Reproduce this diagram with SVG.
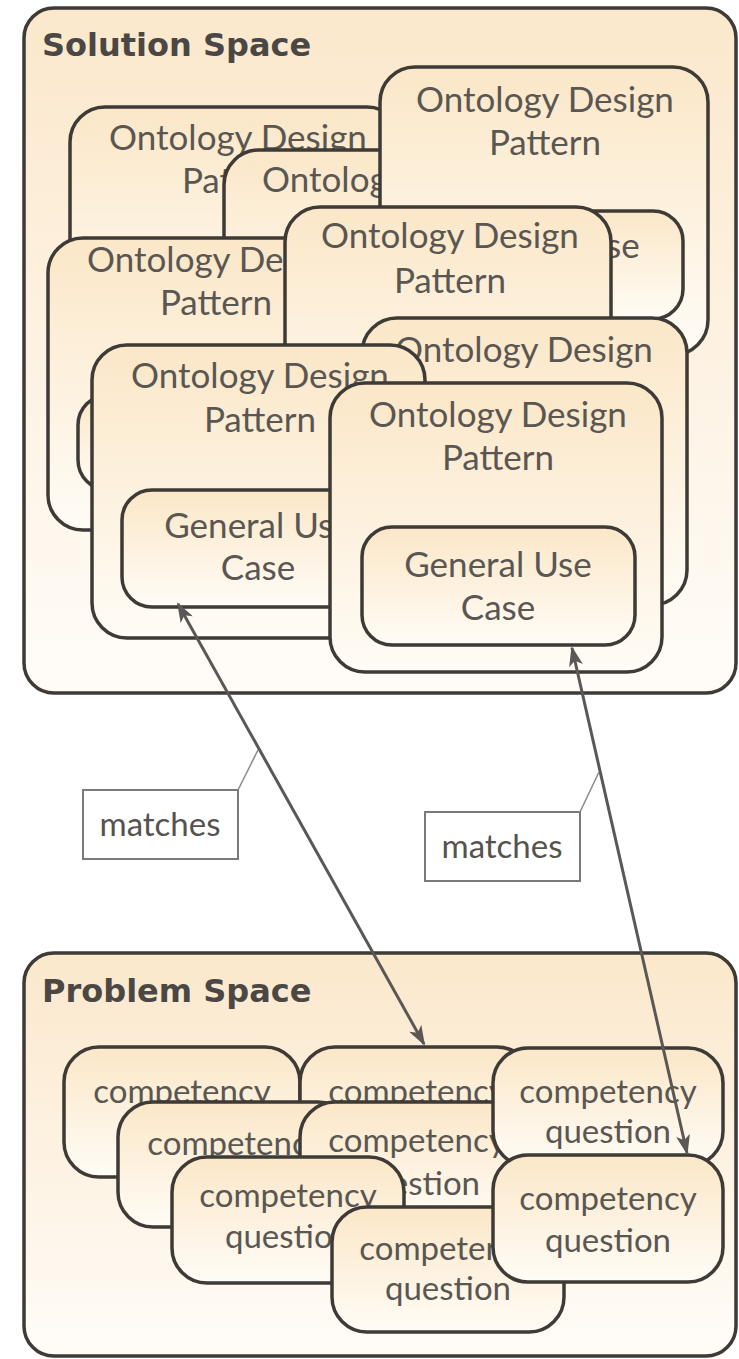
<svg xmlns="http://www.w3.org/2000/svg" width="739" height="1359" viewBox="0 0 739 1359">
<defs>
<linearGradient id="gn" x1="0" y1="0" x2="0" y2="1">
<stop offset="0" stop-color="#fbe7c8"/>
<stop offset="1" stop-color="#fffcf6"/>
</linearGradient>
<linearGradient id="gc" x1="0" y1="0" x2="0" y2="1">
<stop offset="0" stop-color="#fbe8cc"/>
<stop offset="1" stop-color="#fffcf8"/>
</linearGradient>
<marker id="ah" viewBox="0 0 20 14" refX="18" refY="7" markerWidth="20" markerHeight="14" markerUnits="userSpaceOnUse" orient="auto-start-reverse">
<path d="M0,0 L20,7 L0,14 L5,7 z" fill="#5a5754"/>
</marker>
<style>
.cont{fill:url(#gc);stroke:#3e3a36;stroke-width:3.5}
.n{fill:url(#gn);stroke:#3e3a36;stroke-width:3.5}
.t{font-family:Lato,"Open Sans",sans-serif;font-size:35px;fill:#5a5652;text-anchor:middle}
.q{font-family:Lato,"Open Sans",sans-serif;font-size:33px;fill:#5a5652;text-anchor:middle}
.h{font-family:"DejaVu Sans","Liberation Sans",sans-serif;font-size:32px;font-weight:bold;fill:#4a4744}
.m{font-family:Lato,"Open Sans",sans-serif;font-size:33px;fill:#55524f;text-anchor:middle}
.lb{fill:#ffffff;stroke:#7a7a7a;stroke-width:2}
.ld{fill:none;stroke:#8a8a8a;stroke-width:1.5}
.ar{fill:none;stroke:#5a5754;stroke-width:3;marker-start:url(#ah);marker-end:url(#ah)}
</style>
</defs>
<rect width="739" height="1359" fill="#ffffff"/>
<g id="solution-space">
<rect class="cont" x="24" y="8" width="712" height="685" rx="30"/>
<text class="h" x="42" y="56">Solution Space</text>
</g>
<g id="odp-a">
<rect class="n" x="70" y="107" width="332" height="250" rx="35"/>
<text class="t" x="238" y="150">Ontology Design</text>
<text class="t" x="238" y="193">Pattern</text>
</g>
<g id="odp-b">
<rect class="n" x="224" y="150" width="334" height="200" rx="35"/>
<text class="t" x="391" y="192">Ontology Design</text>
</g>
<g id="odp-c">
<rect class="n" x="380" y="67" width="328" height="288" rx="35"/>
<text class="t" x="545" y="112">Ontology Design</text>
<text class="t" x="545" y="155">Pattern</text>
<rect class="n" x="410" y="211" width="273" height="108" rx="30"/>
<text class="t" x="546" y="258">General Use</text>
</g>
<g id="odp-k">
<rect class="n" x="48" y="238" width="336" height="292" rx="35"/>
<text class="t" x="216" y="272">Ontology Design</text>
<text class="t" x="216" y="315">Pattern</text>
<rect class="n" x="78" y="395" width="270" height="95" rx="30"/>
</g>
<g id="odp-e">
<rect class="n" x="285" y="207" width="326" height="260" rx="35"/>
<text class="t" x="450" y="248">Ontology Design</text>
<text class="t" x="450" y="293">Pattern</text>
</g>
<g id="odp-f">
<rect class="n" x="362" y="318" width="325" height="287" rx="35"/>
<text class="t" x="524" y="362">Ontology Design</text>
</g>
<g id="odp-g">
<rect class="n" x="92" y="345" width="333" height="293" rx="35"/>
<text class="t" x="260" y="388">Ontology Design</text>
<text class="t" x="260" y="432">Pattern</text>
<rect class="n" x="122" y="490" width="272" height="117" rx="30"/>
<text class="t" x="258" y="538">General Use</text>
<text class="t" x="258" y="580">Case</text>
</g>
<g id="odp-h">
<rect class="n" x="330" y="383" width="332" height="289" rx="35"/>
<text class="t" x="498" y="427">Ontology Design</text>
<text class="t" x="498" y="470">Pattern</text>
<rect class="n" x="362" y="527" width="273" height="118" rx="30"/>
<text class="t" x="498" y="577">General Use</text>
<text class="t" x="498" y="620">Case</text>
</g>
<g id="problem-space">
<rect class="cont" x="24" y="953" width="712" height="403" rx="30"/>
<text class="h" x="42" y="1002">Problem Space</text>
</g>
<g id="cq-1">
<rect class="n" x="64" y="1047" width="236" height="130" rx="35"/>
<text class="q" x="182" y="1103">competency</text>
</g>
<g id="cq-2">
<rect class="n" x="300" y="1047" width="232" height="130" rx="35"/>
<text class="q" x="417" y="1103">competency</text>
</g>
<g id="cq-3">
<rect class="n" x="118" y="1102" width="235" height="125" rx="35"/>
<text class="q" x="236" y="1155">competency</text>
</g>
<g id="cq-4">
<rect class="n" x="300" y="1102" width="232" height="125" rx="35"/>
<text class="q" x="417" y="1152">competency</text>
<text class="q" x="417" y="1195">question</text>
</g>
<g id="cq-5">
<rect class="n" x="172" y="1157" width="232" height="126" rx="35"/>
<text class="q" x="288" y="1207">competency</text>
<text class="q" x="288" y="1248">question</text>
</g>
<g id="cq-8">
<rect class="n" x="332" y="1207" width="232" height="125" rx="35"/>
<text class="q" x="448" y="1260">competency</text>
<text class="q" x="448" y="1300">question</text>
</g>
<g id="cq-6">
<rect class="n" x="493" y="1048" width="230" height="118" rx="35"/>
<text class="q" x="608" y="1103">competency</text>
<text class="q" x="608" y="1143">question</text>
</g>
<g id="cq-7">
<rect class="n" x="493" y="1155" width="230" height="127" rx="35"/>
<text class="q" x="608" y="1210">competency</text>
<text class="q" x="608" y="1252">question</text>
</g>
<g id="connectors">
<line class="ar" x1="178" y1="604" x2="424" y2="1044"/>
<line class="ar" x1="572" y1="648" x2="687" y2="1153"/>
<line class="ld" x1="238" y1="790" x2="258" y2="750"/>
<rect class="lb" x="83" y="790" width="155" height="69"/>
<text class="m" x="160" y="836">matches</text>
<line class="ld" x1="580" y1="812" x2="599" y2="772"/>
<rect class="lb" x="425" y="812" width="155" height="69"/>
<text class="m" x="502" y="858">matches</text>
</g>
</svg>
